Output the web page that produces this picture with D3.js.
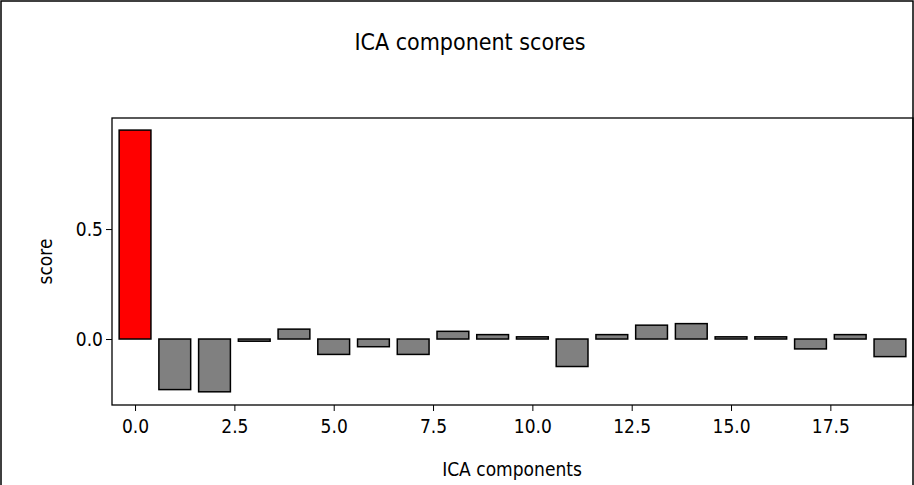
<!DOCTYPE html>
<html><head><meta charset="utf-8">
<script src="https://cdn.jsdelivr.net/npm/d3@7"></script>
<style>body{margin:0;background:#fff}svg{font-family:"DejaVu Sans Condensed","DejaVu Sans",sans-serif}
.tick text{font-size:19px;font-family:"DejaVu Sans Condensed","DejaVu Sans",sans-serif}</style>
</head><body>
<svg id="chart" width="914" height="485"></svg>
<script>
const components = d3.range(20);
const scores = [0.95, -0.23, -0.24, -0.01, 0.045, -0.07, -0.035, -0.07, 0.035, 0.02,
  0.01, -0.125, 0.02, 0.063, 0.07, 0.01, 0.01, -0.045, 0.02, -0.08];
const excluded = [0];
const xTicks = [0, 2.5, 5, 7.5, 10, 12.5, 15, 17.5];
const yTicks = [0, 0.5];

const svg = d3.select('#chart');
const m = { left: 112, right: 913, top: 118, bottom: 405 };

svg.append('rect').attr('x', 1).attr('y', 1).attr('width', 912).attr('height', 490)
  .attr('fill', 'none').attr('stroke', '#000').attr('stroke-width', 1.5);

const x = d3.scaleLinear().domain([-0.58, 19.58]).range([m.left, m.right]);
const y = d3.scaleLinear().domain([-0.3, 1.005]).range([m.bottom, m.top]);

svg.selectAll('.bar').data(components).join('rect')
  .attr('class', 'bar')
  .attr('x', d => x(d - 0.4))
  .attr('width', x(0.8) - x(0))
  .attr('y', d => y(Math.max(0, scores[d])))
  .attr('height', d => Math.abs(y(scores[d]) - y(0)))
  .attr('fill', d => excluded.includes(d) ? '#ff0000' : '#808080')
  .attr('stroke', '#000').attr('stroke-width', 1.5);

svg.append('g').attr('transform', `translate(0,${m.bottom})`)
  .call(d3.axisBottom(x).tickValues(xTicks).tickFormat(d3.format('.1f')).tickSize(6))
  .call(g => g.select('.domain').remove())
  .selectAll('text').attr('dy', '1.0em');

svg.append('g').attr('transform', `translate(${m.left},0)`)
  .call(d3.axisLeft(y).tickValues(yTicks).tickFormat(d3.format('.1f')).tickSize(6))
  .call(g => g.select('.domain').remove());

svg.append('rect').attr('x', m.left).attr('y', m.top)
  .attr('width', m.right - m.left).attr('height', m.bottom - m.top)
  .attr('fill', 'none').attr('stroke', '#000').attr('stroke-width', 1.3);

svg.append('text').attr('x', 470).attr('y', 50).attr('text-anchor', 'middle')
  .attr('font-size', 23).text('ICA component scores');
svg.append('text').attr('x', 512).attr('y', 476).attr('text-anchor', 'middle')
  .attr('font-size', 19).text('ICA components');
svg.append('text').attr('transform', `translate(52,${(m.top + m.bottom) / 2}) rotate(-90)`)
  .attr('text-anchor', 'middle').attr('font-size', 19).text('score');
</script>
</body></html>
